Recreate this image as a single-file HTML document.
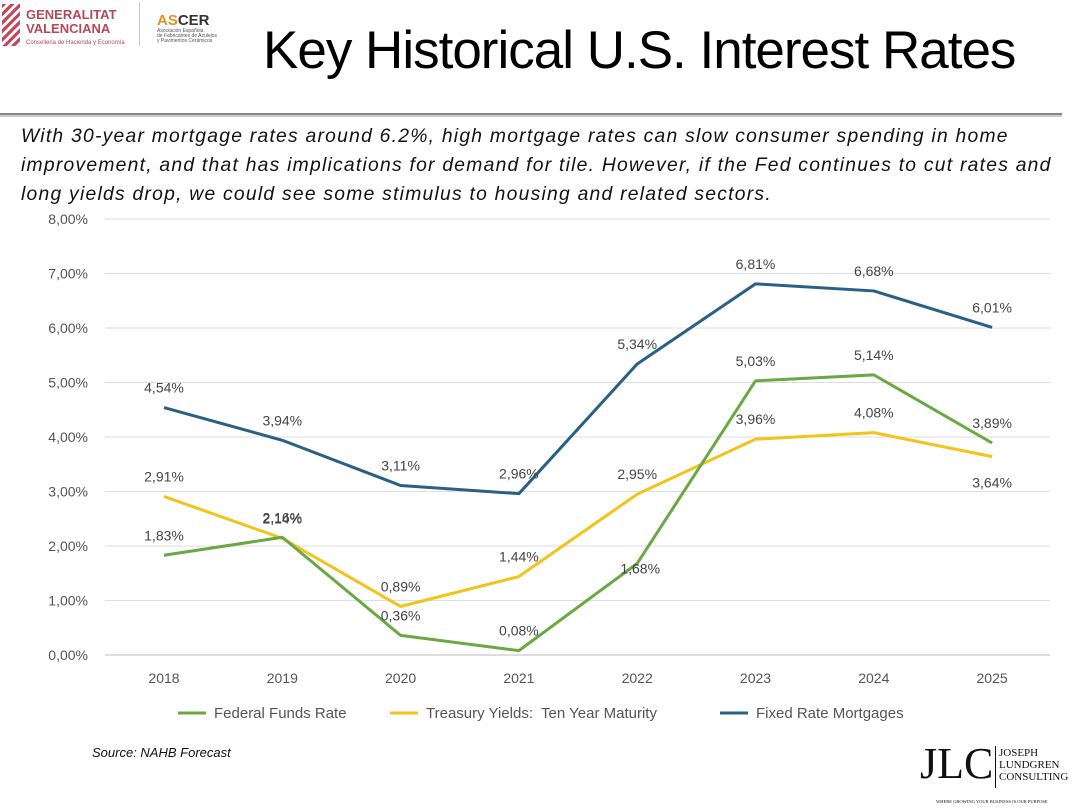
<!DOCTYPE html>
<html><head><meta charset="utf-8"><style>
body{margin:0;width:1080px;height:810px;background:#fff;font-family:"Liberation Sans",sans-serif;overflow:hidden;position:relative}
.abs{position:absolute}
</style></head><body>
<div class="abs" style="left:2px;top:4px;width:130px;height:44px">
 <div class="abs" style="left:0;top:0;width:18px;height:42px;background:repeating-linear-gradient(135deg,#c4475a 0 3px,#fff 3px 6px)"></div>
 <div class="abs" style="left:24px;top:4px;color:#b24a5a;font-size:13px;line-height:14px;font-weight:bold">GENERALITAT<br>VALENCIANA</div>
 <div class="abs" style="left:24px;top:36px;color:#b24a5a;font-size:6px;white-space:nowrap">Conselleria de Hacienda y Economía</div>
</div>
<div class="abs" style="left:139px;top:2px;width:1px;height:44px;background:#ccc"></div>
<div class="abs" style="left:157px;top:12px;">
 <div style="font-weight:bold;font-size:15px;color:#333"><span style="color:#e89020">AS</span>CER</div>
 <div style="font-size:5px;line-height:5px;color:#555">Asociación Española<br>de Fabricantes de Azulejos<br>y Pavimentos Cerámicos</div>
</div>
<div class="abs" style="left:263px;top:20px;font-size:53px;color:#000;letter-spacing:-1px;white-space:nowrap">Key Historical U.S. Interest Rates</div>
<div class="abs" style="left:0;top:113px;width:1062px;height:2px;background:#888;border-bottom:2px solid #ccc"></div>
<div class="abs" style="left:21px;top:122px;font-size:19.3px;font-style:italic;line-height:29px;color:#111;white-space:nowrap;letter-spacing:1.25px">With 30-year mortgage rates around 6.2%, high mortgage rates can slow consumer spending in home<br>improvement, and that has implications for demand for tile. However, if the Fed continues to cut rates and<br>long yields drop, we could see some stimulus to housing and related sectors.</div>
<svg class="abs" style="left:0;top:0" width="1080" height="810" id="chart"></svg>
<div class="abs" style="left:92px;top:745px;font-size:13px;font-style:italic;color:#111">Source: NAHB Forecast</div>
<div class="abs" style="left:920px;top:742px;width:160px;height:66px">
 <div class="abs" style="left:0;top:0;font-family:'Liberation Serif',serif;font-size:44px;line-height:44px;color:#111">JLC</div>
 <div class="abs" style="left:75px;top:4px;width:1px;height:42px;background:#111"></div>
 <div class="abs" style="left:79px;top:5px;font-family:'Liberation Serif',serif;font-size:11px;line-height:12px;color:#111">JOSEPH<br>LUNDGREN<br>CONSULTING</div>
 <div class="abs" style="left:16px;top:57px;font-family:'Liberation Serif',serif;font-size:4.5px;color:#111;white-space:nowrap">WHERE GROWING YOUR BUSINESS IS OUR PURPOSE</div>
</div>
<script>
const years=["2018","2019","2020","2021","2022","2023","2024","2025"];
const fed=[1.83,2.16,0.36,0.08,1.68,5.03,5.14,3.89];
const treasury=[2.91,2.14,0.89,1.44,2.95,3.96,4.08,3.64];
const mortgage=[4.54,3.94,3.11,2.96,5.34,6.81,6.68,6.01];
const yTicks=[0,1,2,3,4,5,6,7,8];
const NS="http://www.w3.org/2000/svg";
const svg=document.getElementById('chart');
const x0=164,dx=118.3,yb=655,py=54.5;
const X=i=>x0+i*dx, Y=v=>yb-v*py;
function el(t,a){const e=document.createElementNS(NS,t);for(const k in a)e.setAttribute(k,a[k]);svg.appendChild(e);return e;}
const fmt=v=>v.toFixed(2).replace('.',',')+'%';
yTicks.forEach(t=>{
 const g=el('line',{x1:105,x2:1050,y1:Y(t),y2:Y(t),stroke:t===0?'#bbb':'#ddd','stroke-width':1});
 
 
 const tx=el('text',{x:88,y:Y(t)+5,'text-anchor':'end','font-size':14,fill:'#555'});
 tx.textContent=t.toFixed(2).replace('.',',')+'%';
 
 
});
years.forEach((y,i)=>{
 const tx=el('text',{x:X(i),y:683,'text-anchor':'middle','font-size':14,fill:'#555'});
 tx.textContent=y;
 
 
});
const series=[[mortgage,'#2a5f86','mortgage'],[treasury,'#f2c318','treasury'],[fed,'#6aa844','fed']];
series.forEach(([d,c,n])=>{
 const p=el('polyline',{points:d.map((v,i)=>X(i)+','+Y(v)).join(' '),fill:'none',stroke:c,'stroke-width':3,'stroke-linejoin':'round'});
 
 
 d.forEach((v,i)=>{
  let lx=X(i),ly=Y(v)-15;
  if(n==='treasury'&&i===7){ly=Y(v)+31;}
  if(n==='fed'&&i===4){lx=X(i)+3;ly=Y(v)+10;}
  const t=el('text',{x:lx,y:ly,'text-anchor':'middle','font-size':14,fill:'#444'});
  t.textContent=fmt(v);
  
  
 });
});
const leg=[['Federal Funds Rate','#6aa844',178],['Treasury Yields:  Ten Year Maturity','#f2c318',390],['Fixed Rate Mortgages','#2a5f86',720]];
leg.forEach(([t,c,x])=>{
 const l=el('line',{x1:x,x2:x+28,y1:713,y2:713,stroke:c,'stroke-width':3});
 
 
 const tx=el('text',{x:x+36,y:718,'font-size':15,fill:'#555'});
 tx.style.whiteSpace='pre';
 tx.textContent=t;
 
 
});
</script>
</body></html>
